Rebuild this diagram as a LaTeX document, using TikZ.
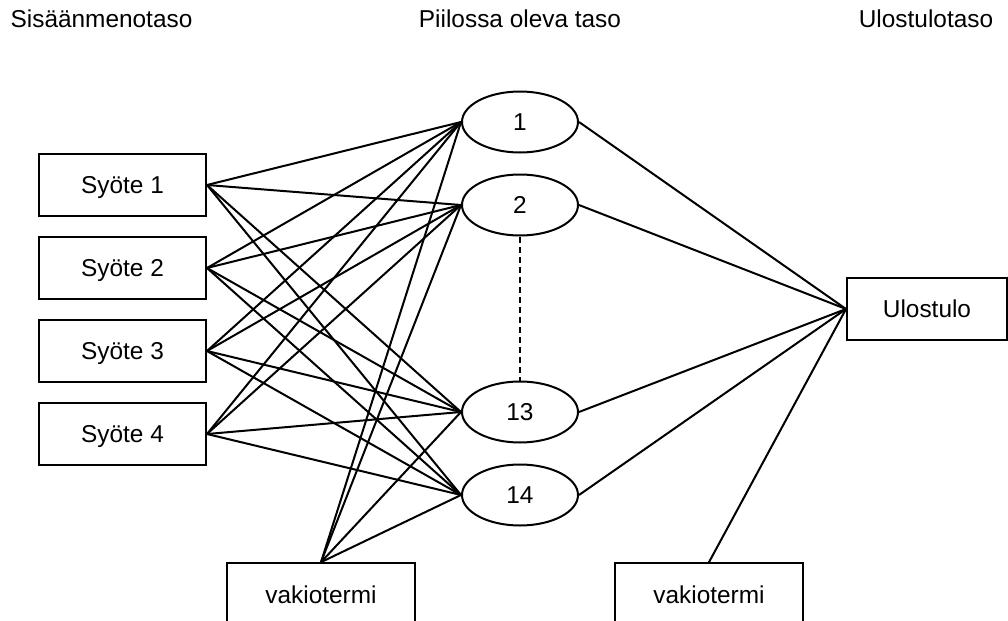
\documentclass[tikz,border=0pt]{standalone}
\usepackage{fontspec}
\setmainfont{Liberation Sans}
\usetikzlibrary{shapes.geometric}
\begin{document}
\begin{tikzpicture}[x=0.75pt,y=-0.75pt,
  font=\fontsize{18.3}{22}\selectfont,
  line width=1.5pt,
  inbox/.style={draw, rectangle, minimum width=125.25pt, minimum height=47pt, inner sep=0pt, text depth=0pt},
  biasbox/.style={draw, rectangle, minimum width=141pt, minimum height=47pt, inner sep=0pt, text depth=0pt},
  outbox/.style={draw, rectangle, minimum width=120pt, minimum height=46.5pt, inner sep=0pt, text depth=0pt},
  neuron/.style={draw, ellipse, minimum width=87pt, minimum height=45.75pt, inner sep=0pt},
  title/.style={anchor=base, inner sep=0pt},
  conn/.style={line width=1.5pt},
  dotted link/.style={line width=1.5pt, dash pattern=on 4.5pt off 3pt}
]
\useasboundingbox (0,0) rectangle (1008,621);
\clip (0,0) rectangle (1008,621);

% titles
\node[title] (t1) at (101.5,27) {Sisäänmenotaso};
\node[title] (t2) at (520,27) {Piilossa oleva taso};
\node[title] (t3) at (926,27) {Ulostulotaso};

% input layer
\node[inbox] (in1) at (122.5,185) {Syöte 1};
\node[inbox] (in2) at (122.5,268) {Syöte 2};
\node[inbox] (in3) at (122.5,351) {Syöte 3};
\node[inbox] (in4) at (122.5,434) {Syöte 4};

% hidden layer
\node[neuron] (h1) at (520,122) {1};
\node[neuron] (h2) at (520,205) {2};
\node[neuron] (h13) at (520,412) {13};
\node[neuron] (h14) at (520,495) {14};

% output
\node[outbox] (out) at (927,309) {Ulostulo};

% bias
\node[biasbox] (b1) at (321,594.5) {vakiotermi};
\node[biasbox] (b2) at (709,594.5) {vakiotermi};

% connections input -> hidden
\foreach \i in {in1,in2,in3,in4}{
  \foreach \h in {h1,h2,h13,h14}{
    \draw[conn] (\i.east) -- (\h.west);
  }
}
\foreach \h in {h1,h2,h13,h14}{
  \draw[conn] (b1.north) -- (\h.west);
  \draw[conn] (\h.east) -- (out.west);
}
\draw[conn] (b2.north) -- (out.west);

\draw[dotted link] (h2.south) -- (h13.north);
\end{tikzpicture}
\end{document}
